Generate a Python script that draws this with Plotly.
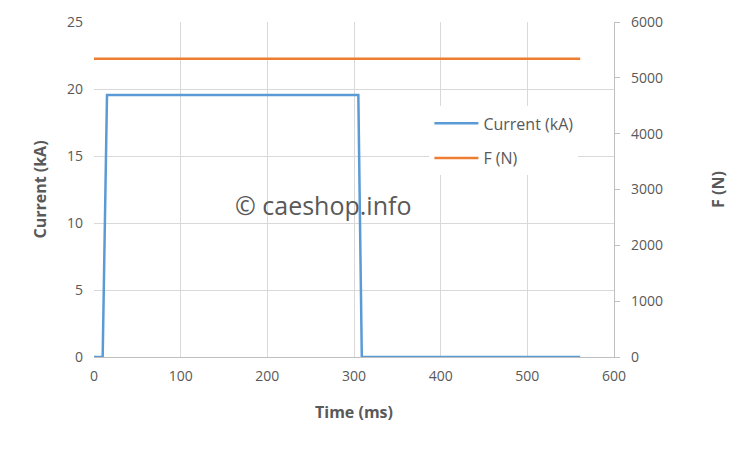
import plotly.graph_objects as go

# data
time_current = [0, 10, 15, 305, 309, 561]
current_ka = [0, 0, 19.55, 19.55, 0, 0]
time_force = [0, 561]
force_n = [5340, 5340]

C_CUR = "#5B9BD5"
C_F = "#ED7D31"
C_TXT = "#595959"
C_GRID = "#D9D9D9"
FONT = "Open Sans, Liberation Sans, sans-serif"

fig = go.Figure()
fig.add_trace(go.Scatter(
    x=time_current, y=current_ka, name="Current (kA)", mode="lines",
    line=dict(color=C_CUR, width=2.5), legendgroup="a",
))
fig.add_trace(go.Scatter(
    x=time_force, y=force_n, name="F (N)", mode="lines",
    line=dict(color=C_F, width=2.5), yaxis="y2", legendgroup="b",
))

# page body adds an 8px offset, so the figure is a little smaller than the window
fig.update_layout(
    width=742, height=442,
    paper_bgcolor="white", plot_bgcolor="white",
    font=dict(family=FONT, color=C_TXT, size=14),
    margin=dict(l=86, r=136, t=14, b=93),
    showlegend=True,
    legend=dict(
        x=0.645, y=0.748, xanchor="left", yanchor="top",
        bgcolor="white", font=dict(size=16, color=C_TXT),
        tracegroupgap=11, itemwidth=44,
    ),
    xaxis=dict(
        range=[0, 600], dtick=100, showgrid=True, gridcolor=C_GRID, gridwidth=1.3,
        zeroline=False, showline=True, linecolor="#BFBFBF", linewidth=1.3,
        ticks="", ticklabelstandoff=6, tickfont=dict(size=14, color=C_TXT),
        automargin=False,
        title=dict(text="<b>Time (ms)</b>", font=dict(size=16, color=C_TXT), standoff=22),
    ),
    yaxis=dict(
        range=[0, 25], dtick=5, showgrid=True, gridcolor=C_GRID, gridwidth=1.3,
        zeroline=False, showline=False, ticks="", ticklabelstandoff=10,
        tickfont=dict(size=14, color=C_TXT), automargin=False,
        title=dict(text="<b>Current (kA)</b>", font=dict(size=16, color=C_TXT), standoff=16),
    ),
    yaxis2=dict(
        range=[0, 6000], dtick=1000, overlaying="y", side="right",
        showgrid=False, zeroline=False, showline=True, linecolor="#BFBFBF", linewidth=1.3,
        ticks="outside", ticklen=5, tickcolor="#BFBFBF", ticklabelstandoff=8,
        tickfont=dict(size=14, color=C_TXT), automargin=False,
        title=dict(text="<b>F (N)</b>", font=dict(size=16, color=C_TXT), standoff=50),
    ),
    annotations=[dict(
        text="© caeshop.info", xref="paper", yref="paper", x=0.44, y=0.455,
        showarrow=False, font=dict(size=25, color=C_TXT, family=FONT),
    )],
)

fig.write_html("out.html")
